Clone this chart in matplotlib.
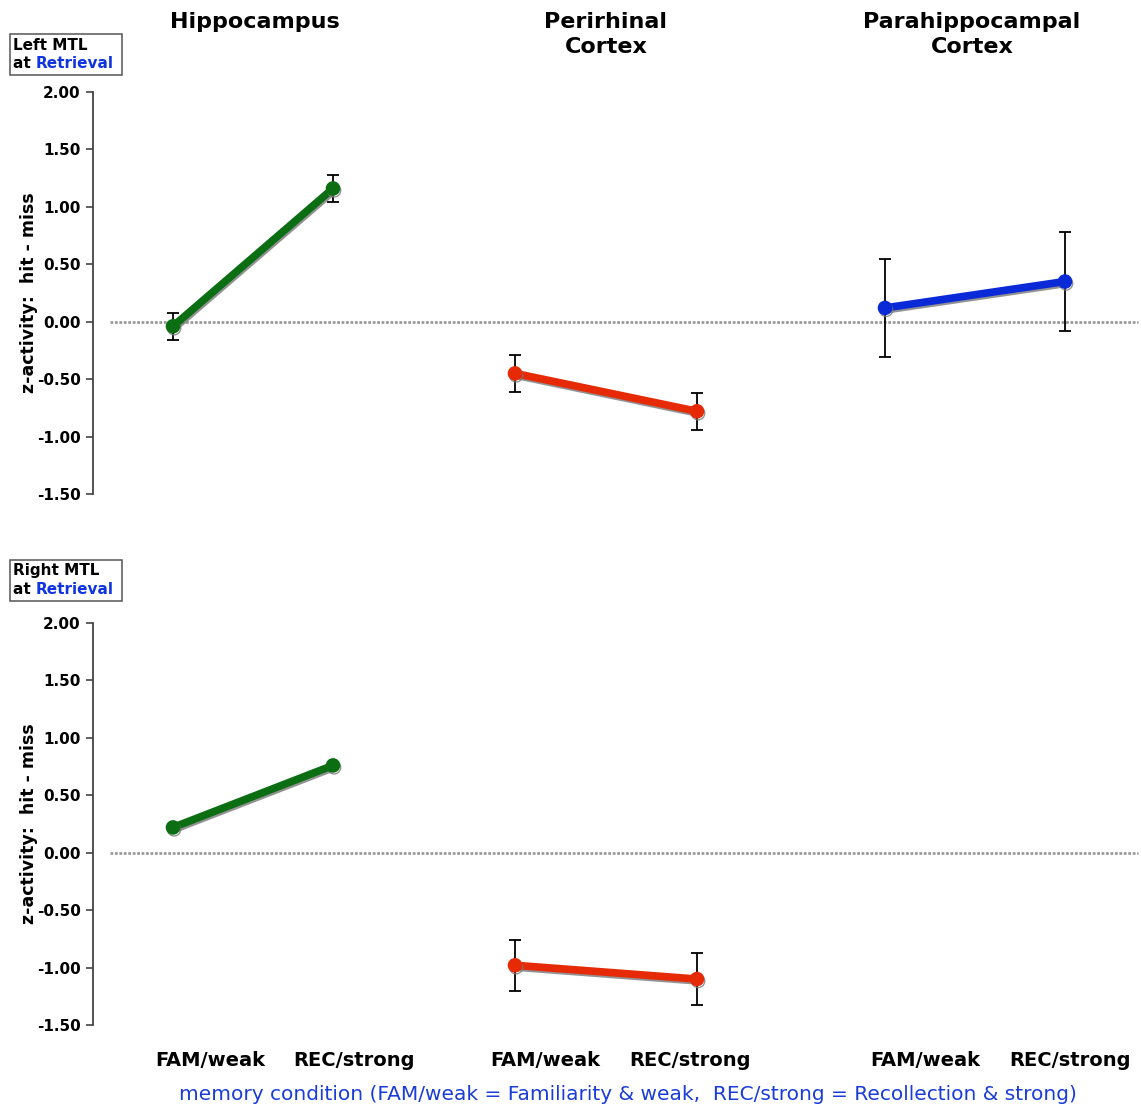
import numpy as np
import matplotlib
matplotlib.use("Agg")
import matplotlib.pyplot as plt
import matplotlib.patheffects as pe
from matplotlib.patches import Rectangle

# regions and conditions
regions = ["Hippocampus", "Perirhinal\nCortex", "Parahippocampal\nCortex"]
conditions = ["FAM/weak", "REC/strong"]
region_colors = ["#0b6e12", "#e62a05", "#0a2ad8"]

# z-activity (hit - miss) per region, [FAM/weak, REC/strong]
left_mean = [[-0.04, 1.16], [-0.45, -0.78], [0.12, 0.35]]
left_err = [[0.12, 0.12], [0.16, 0.16], [0.43, 0.43]]
right_mean = [[0.22, 0.76], [-0.98, -1.10], None]
right_err = [None, [0.22, 0.23], None]

yticks = [2.0, 1.5, 1.0, 0.5, 0.0, -0.5, -1.0, -1.5]

W, H = 1141, 1108
fig = plt.figure(figsize=(W / 100, H / 100), dpi=100)


def fx(x):
    return x / W


def fy(y):
    return 1 - y / H


# x positions (in axis units) for FAM/REC in each region
xpos = [[173, 333], [515, 697], [885, 1065]]


def panel(top, bottom, means, errs, box_title):
    ax = fig.add_axes([fx(93), fy(bottom), fx(W) - fx(93), (bottom - top) / H])
    ax.set_xlim(93, W)
    ax.set_ylim(-1.5, 2.0)
    for s in ["top", "right", "bottom"]:
        ax.spines[s].set_visible(False)
    ax.spines["left"].set_color("#444444")
    ax.spines["left"].set_linewidth(1.3)
    ax.set_xticks([])
    ax.set_yticks(yticks)
    ax.set_yticklabels(["%.2f" % v for v in yticks], fontsize=11, fontweight="bold")
    ax.tick_params(axis="y", length=5, width=1.2, color="#444444", pad=4)
    ax.set_ylabel("z-activity:  hit - miss", fontsize=12.5, fontweight="bold")
    ax.yaxis.set_label_coords(-0.0525, 0.5)

    # zero reference line
    ax.plot([110, W - 3], [0, 0], color="#9a9a9a", lw=2, ls=(0, (1, 0.6)), zorder=1)

    for i in range(3):
        if means[i] is None:
            continue
        xs = xpos[i]
        ys = means[i]
        if errs[i] is not None:
            ax.errorbar(xs, ys, yerr=errs[i], fmt="none", ecolor="black",
                        elinewidth=1.3, capsize=4, capthick=1.3, zorder=2)
        ax.plot(xs, ys, color=region_colors[i], lw=5.5, marker="o", ms=9.5,
                solid_capstyle="round", zorder=3,
                path_effects=[pe.SimpleLineShadow(offset=(0.8, -1.4), shadow_color="#777777", alpha=0.8),
                              pe.Normal()])

    # panel label box
    bx, by = box_title
    fig.patches.append(Rectangle((fx(bx), fy(by + 41)), fx(112), 41 / H,
                                 transform=fig.transFigure, fill=False,
                                 edgecolor="#555555", lw=1.1))
    return ax


ax1 = panel(92, 494, left_mean, left_err, (10, 34))
ax2 = panel(623, 1025, right_mean, right_err, (10, 560))

# box texts
for name, y0 in [("Left MTL", 34), ("Right MTL", 560)]:
    fig.text(fx(13), fy(y0 + 11), name, fontsize=11, fontweight="bold", va="center")
    t = fig.text(fx(13), fy(y0 + 30), "at ", fontsize=11, fontweight="bold", va="center")
    ax1.annotate("Retrieval", xy=(1, 0), xycoords=t, fontsize=11, fontweight="bold",
                 color="#1034e0", va="bottom", ha="left", annotation_clip=False)

# region titles
title_x = [255, 606, 972]
for name, x in zip(regions, title_x):
    fig.text(fx(x), fy(12), name, fontsize=16, fontweight="bold",
             ha="center", va="top", linespacing=1.3)

# condition labels along the bottom
label_x = [[210, 354], [545, 690], [925, 1070]]
for pair in label_x:
    for lab, x in zip(conditions, pair):
        fig.text(fx(x), fy(1061), lab, fontsize=14, fontweight="bold",
                 ha="center", va="center")

fig.text(fx(628), fy(1094),
         "memory condition (FAM/weak = Familiarity & weak,  REC/strong = Recollection & strong)",
         fontsize=14.5, color="#1a3cd8", ha="center", va="center")

fig.savefig("out.png", dpi=100)
